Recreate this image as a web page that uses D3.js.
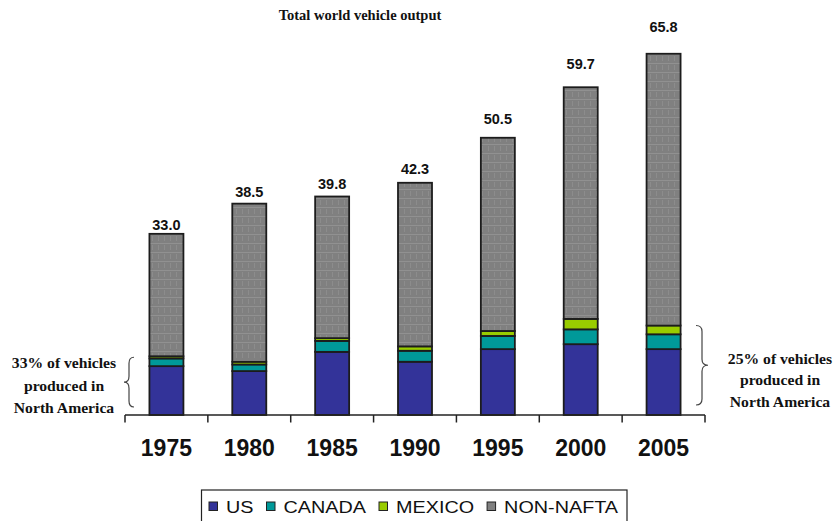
<!DOCTYPE html>
<html>
<head>
<meta charset="utf-8">
<script src="https://cdn.jsdelivr.net/npm/d3@7"></script>
<style>
  html, body { margin: 0; padding: 0; background: #fff; }
  svg { display: block; }
</style>
</head>
<body>
<svg id="chart" width="833" height="521"></svg>
<script>
// Vehicle production, millions of units
const years = ["1975", "1980", "1985", "1990", "1995", "2000", "2005"];
const us = [8.9, 8.0, 11.5, 9.7, 12.0, 12.9, 12.0];
const canada = [1.4, 1.2, 2.0, 2.0, 2.4, 2.7, 2.7];
const mexico = [0.4, 0.5, 0.5, 0.8, 0.9, 1.9, 1.6];
const nonNafta = [22.3, 28.8, 25.8, 29.8, 35.2, 42.2, 49.5];
const seriesNames = ["US", "CANADA", "MEXICO", "NON-NAFTA"];
const titleText = "Total world vehicle output";
const leftNote = ["33% of vehicles", "produced in", "North America"];
const rightNote = ["25% of vehicles", "produced in", "North America"];

const colors = { "US": "#333399", "CANADA": "#009999", "MEXICO": "#99cc00", "NON-NAFTA": "url(#grayTexture)" };
const swatch = { "US": "#333399", "CANADA": "#009999", "MEXICO": "#99cc00", "NON-NAFTA": "#808080" };

const rows = years.map((yr, i) => ({
  year: yr, "US": us[i], "CANADA": canada[i], "MEXICO": mexico[i], "NON-NAFTA": nonNafta[i]
}));
rows.forEach(r => { r.total = d3.sum(seriesNames, k => r[k]); });

const svg = d3.select("#chart");

// textured gray fill for the non-NAFTA segment
const defs = svg.append("defs");
const pat = defs.append("pattern").attr("id", "grayTexture")
  .attr("patternUnits", "userSpaceOnUse").attr("width", 6).attr("height", 9);
pat.append("rect").attr("width", 6).attr("height", 9).attr("fill", "#808080");
pat.append("line").attr("x1", 0).attr("x2", 6).attr("y1", 0.5).attr("y2", 0.5)
  .attr("stroke", "#919191").attr("stroke-width", 1);
pat.append("line").attr("x1", 2.5).attr("x2", 2.5).attr("y1", 2).attr("y2", 7)
  .attr("stroke", "#8c8c8c").attr("stroke-width", 1);

const x = d3.scaleBand().domain(years).range([125, 705]).padding(0);
const y = d3.scaleLinear().domain([0, 70]).range([415, 415 - 70 * 5.49]);
const yLabel = d3.scaleLinear().domain([0, 70]).range([429.3, 429.3 - 70 * 6.04]);
const barW = 34;

const stacked = d3.stack().keys(seriesNames)(rows);

// bars
const layers = svg.append("g").selectAll("g").data(stacked).join("g")
  .attr("fill", d => colors[d.key]);
layers.selectAll("rect").data(d => d).join("rect")
  .attr("x", d => x(d.data.year) + (x.bandwidth() - barW) / 2)
  .attr("width", barW)
  .attr("y", d => y(d[1]))
  .attr("height", d => y(d[0]) - y(d[1]))
  .attr("stroke", "#1c1c1c")
  .attr("stroke-width", 1.8);

// totals above the bars
svg.append("g").selectAll("text").data(rows).join("text")
  .attr("x", d => x(d.year) + x.bandwidth() / 2)
  .attr("y", d => yLabel(d.total))
  .attr("text-anchor", "middle")
  .attr("font-family", "Liberation Sans, Arial, sans-serif")
  .attr("font-weight", "bold")
  .attr("font-size", 14.5)
  .attr("fill", "#111")
  .text(d => d3.format(".1f")(d.total));

// category axis: baseline with ticks at band boundaries
const axis = svg.append("g");
axis.append("line")
  .attr("x1", x.range()[0]).attr("x2", x.range()[1])
  .attr("y1", y(0)).attr("y2", y(0))
  .attr("stroke", "#222").attr("stroke-width", 1.5);
const bounds = years.map(yr => x(yr)).concat([x.range()[1]]);
axis.selectAll("line.tick").data(bounds).join("line").attr("class", "tick")
  .attr("x1", d => d).attr("x2", d => d)
  .attr("y1", y(0)).attr("y2", y(0) + 7.5)
  .attr("stroke", "#222").attr("stroke-width", 1.5);
axis.selectAll("text").data(years).join("text")
  .attr("x", d => x(d) + x.bandwidth() / 2)
  .attr("y", 456)
  .attr("text-anchor", "middle")
  .attr("font-family", "Liberation Sans, Arial, sans-serif")
  .attr("font-weight", "bold")
  .attr("font-size", 23)
  .attr("fill", "#111")
  .text(d => d);

// title
svg.append("text")
  .attr("x", 360).attr("y", 20)
  .attr("text-anchor", "middle")
  .attr("font-family", "Liberation Serif, Times New Roman, serif")
  .attr("font-weight", "bold")
  .attr("font-size", 14.5)
  .attr("fill", "#111")
  .text(titleText);

// curly brace path; tip points toward xTip
function bracePath(xArm, xTip, y0, y1) {
  const xm = (xArm + xTip) / 2, mid = (y0 + y1) / 2, q = 6;
  return `M${xArm},${y0} Q${xm},${y0} ${xm},${y0 + q} L${xm},${mid - q} ` +
         `Q${xm},${mid} ${xTip},${mid} Q${xm},${mid} ${xm},${mid + q} ` +
         `L${xm},${y1 - q} Q${xm},${y1} ${xArm},${y1}`;
}
const naTop = r => y(r["US"] + r["CANADA"] + r["MEXICO"]);
const first = rows[0], last = rows[rows.length - 1];
svg.append("path")
  .attr("d", bracePath(134, 124, naTop(first) + 1, y(0) - 8))
  .attr("fill", "none").attr("stroke", "#444").attr("stroke-width", 1.2);
svg.append("path")
  .attr("d", bracePath(696, 708, naTop(last), y(0) - 10))
  .attr("fill", "none").attr("stroke", "#444").attr("stroke-width", 1.2);

function note(lines, cx, y0, gap) {
  svg.append("g").selectAll("text").data(lines).join("text")
    .attr("transform", (d, i) => `translate(${cx},${y0 + i * gap}) scale(1.08,1)`)
    .attr("text-anchor", "middle")
    .attr("font-family", "Liberation Serif, Times New Roman, serif")
    .attr("font-weight", "bold")
    .attr("font-size", 14.5)
    .attr("fill", "#111")
    .text(d => d);
}
note(leftNote, 64, 368, 22.5);
note(rightNote, 780, 363.5, 21.7);

// legend
const legend = svg.append("g");
legend.append("rect")
  .attr("x", 201.5).attr("y", 490).attr("width", 425.5).attr("height", 40)
  .attr("fill", "#fff").attr("stroke", "#222").attr("stroke-width", 1.2);
let lx = 209;
seriesNames.forEach(name => {
  legend.append("rect")
    .attr("x", lx).attr("y", 502).attr("width", 8.5).attr("height", 8.5)
    .attr("fill", swatch[name]).attr("stroke", "#222").attr("stroke-width", 1);
  const t = legend.append("text")
    .attr("transform", `translate(${lx + 17},512.5) scale(1.2,1)`)
    .attr("font-family", "Liberation Sans, Arial, sans-serif")
    .attr("font-size", 16.5)
    .attr("fill", "#111")
    .text(name);
  lx += 17 + t.node().getComputedTextLength() * 1.2 + 13;
});
</script>
</body>
</html>
